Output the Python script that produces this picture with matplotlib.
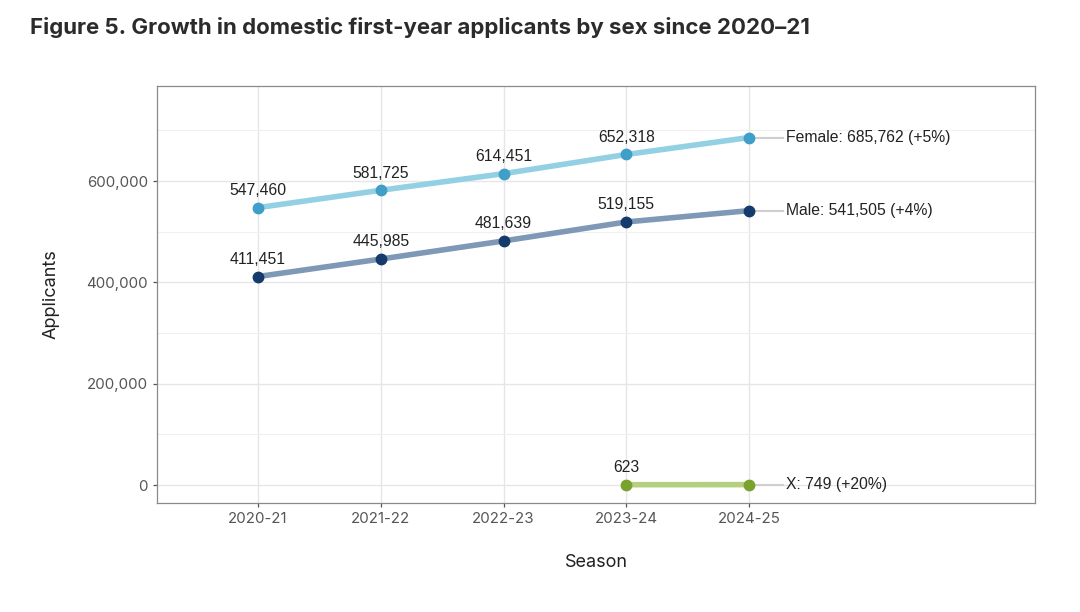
import matplotlib
matplotlib.use("Agg")
import matplotlib.pyplot as plt
from matplotlib.ticker import FuncFormatter, MultipleLocator

seasons = ["2020-21", "2021-22", "2022-23", "2023-24", "2024-25"]
female = [547460, 581725, 614451, 652318, 685762]
male = [411451, 445985, 481639, 519155, 541505]
x_seasons = ["2023-24", "2024-25"]
x_vals = [623, 749]
end_labels = ["Female: 685,762 (+5%)", "Male: 541,505 (+4%)", "X: 749 (+20%)"]

fig = plt.figure(figsize=(10.8, 6.12), dpi=100)
ax = fig.add_axes([157/1080, 1-503/612, (1035-157)/1080, (503-86)/612])

idx = {s: i for i, s in enumerate(seasons)}
xs = list(range(len(seasons)))
xx = [idx[s] for s in x_seasons]

series = [
    (xs, female, "#93d0e4", "#3f9fc9", end_labels[0]),
    (xs, male, "#7f98b6", "#153a6c", end_labels[1]),
    (xx, x_vals, "#b4cf7e", "#7aa22f", end_labels[2]),
]
for xv, yv, lc, mc, lab in series:
    ax.plot([xv[-1], xv[-1] + 0.28], [yv[-1], yv[-1]], color="#cfcfcf", lw=1.5, zorder=2)
    ax.plot(xv, yv, color=lc, lw=4, solid_capstyle="round", zorder=3)
    ax.plot(xv, yv, "o", color=mc, ms=7.5, zorder=4)
    for xi, yi in zip(xv[:-1], yv[:-1]):
        ax.annotate(f"{yi:,}", (xi, yi), xytext=(0, 7), textcoords="offset points",
                    ha="center", va="bottom", fontsize=11.3, color="#222222",
                    family="Liberation Sans")
    ax.annotate(lab, (xv[-1] + 0.3, yv[-1]), ha="left", va="center", fontsize=11.3,
                color="#222222", family="Liberation Sans")

ax.set_xlim(-0.823, 6.33)
ax.set_ylim(-35500, 787500)
ax.set_xticks(xs)
ax.set_xticklabels(seasons)
ax.yaxis.set_major_locator(MultipleLocator(200000))
ax.yaxis.set_minor_locator(MultipleLocator(100000))
ax.yaxis.set_major_formatter(FuncFormatter(lambda v, p: f"{int(v):,}"))
ax.grid(which="major", color="#e6e6e6", lw=1.0)
ax.grid(which="minor", axis="y", color="#f0f0f0", lw=0.8)
ax.set_axisbelow(True)
for s in ax.spines.values():
    s.set_color("#8a8a8a")
    s.set_linewidth(0.9)
ax.tick_params(axis="both", which="major", colors="#555555", labelsize=10.8, length=3,
               width=0.9, labelcolor="#555555")
ax.tick_params(axis="y", which="minor", length=0)
for t in ax.get_xticklabels() + ax.get_yticklabels():
    t.set_family("Inter")
ax.set_xlabel("Season", fontsize=13, family="Inter", color="#222222", labelpad=20)
ax.set_ylabel("Applicants", fontsize=13, family="Inter", color="#222222", labelpad=19)

fig.text(30/1080, 1-27/612, "Figure 5. Growth in domestic first-year applicants by sex since 2020\u201321",
         fontsize=16, fontweight="bold", family="Inter", color="#2b2b2b", va="center", ha="left")

fig.savefig("out.png", dpi=100, facecolor="white")
